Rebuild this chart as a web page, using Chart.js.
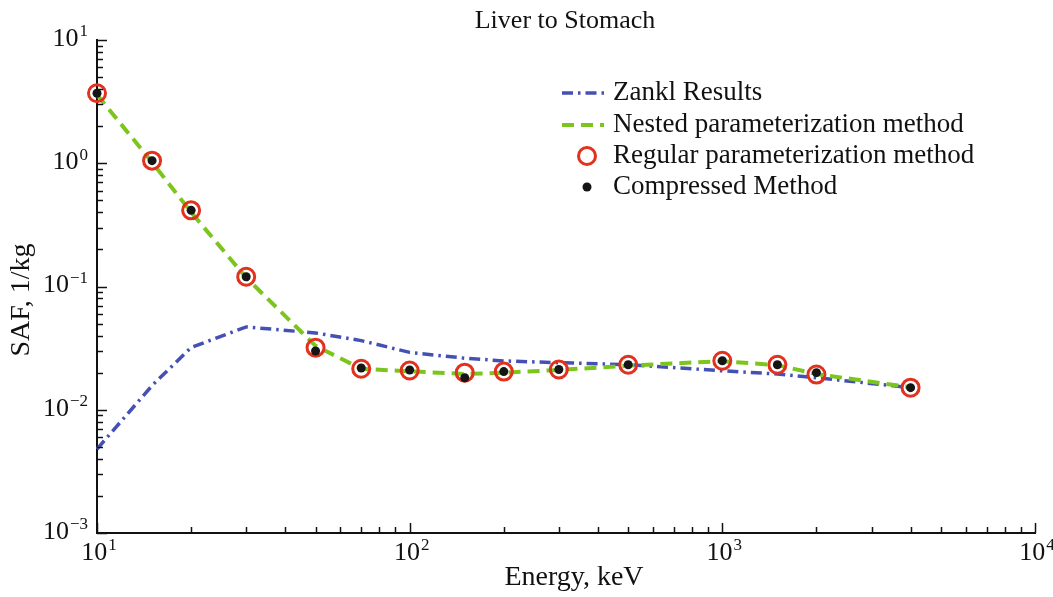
<!DOCTYPE html>
<html>
<head>
<meta charset="utf-8">
<script src="https://cdn.jsdelivr.net/npm/chart.js@4.4.1/dist/chart.umd.min.js"></script>
<style>
body{margin:0;background:#fff}
#wrap{width:1053px;height:597px}
</style>
</head>
<body>
<div id="wrap"><canvas id="saf-chart" width="1053" height="597"></canvas></div>
<script>
const energies = [10, 15, 20, 30, 50, 70, 100, 150, 200, 300, 500, 1000, 1500, 2000, 4000]
const zanklSaf = [0.0048, 0.0157, 0.032, 0.047, 0.042, 0.0364, 0.0292, 0.0262, 0.0249, 0.0241, 0.0232, 0.0207, 0.0195, 0.0182, 0.0151]
const nestedSaf = [3.6, 1.02, 0.40, 0.118, 0.033, 0.0215, 0.0205, 0.0195, 0.0200, 0.0210, 0.0228, 0.0248, 0.0230, 0.0195, 0.0152]
const regularSaf = [3.7, 1.05, 0.415, 0.12, 0.0319, 0.0215, 0.0208, 0.0200, 0.0204, 0.0212, 0.0232, 0.0250, 0.0232, 0.0193, 0.0151]
const compressedSaf = [3.7, 1.05, 0.415, 0.12, 0.0300, 0.0218, 0.0210, 0.0182, 0.0204, 0.0212, 0.0232, 0.0250, 0.0232, 0.0200, 0.0151]
const seriesNames = ['Zankl Results', 'Nested parameterization method', 'Regular parameterization method', 'Compressed Method']
const xTickExps = [1, 2, 3, 4]
const yTickExps = [-3, -2, -1, 0, 1]

const COLORS = {
  blue: "#4550b5",
  green: "#7cc51d",
  red: "#e2311d",
  black: "#151515"
}
const FONT = "'Liberation Serif', 'Times New Roman', serif"

const toPoints = (vals) => energies.map((e, i) => ({x: e, y: vals[i]}))

const datasets = [
  {
    label: seriesNames[3],
    data: toPoints(compressedSaf),
    showLine: false,
    pointRadius: 4.5,
    pointBackgroundColor: COLORS.black,
    pointBorderWidth: 0,
    order: 0,
    clip: false
  },
  {
    label: seriesNames[2],
    data: toPoints(regularSaf),
    showLine: false,
    pointRadius: 8.5,
    pointBackgroundColor: "rgba(0,0,0,0)",
    pointBorderColor: COLORS.red,
    pointBorderWidth: 3,
    order: 1,
    clip: false
  },
  {
    label: seriesNames[1],
    data: toPoints(nestedSaf),
    borderColor: COLORS.green,
    borderWidth: 4,
    borderDash: [12, 7],
    pointRadius: 0,
    order: 2,
    clip: false
  },
  {
    label: seriesNames[0],
    data: toPoints(zanklSaf),
    borderColor: COLORS.blue,
    borderWidth: 3.5,
    borderDash: [11, 5, 2.5, 5],
    pointRadius: 0,
    order: 3,
    clip: false
  }
]

// "10" with a raised exponent
const drawPow = (ctx, exp, x, y, align) => {
  const base = "10"
  const e = exp < 0 ? "\u2212" + Math.abs(exp) : String(exp)
  ctx.font = "26px " + FONT
  const wb = ctx.measureText(base).width
  ctx.font = "17px " + FONT
  const we = ctx.measureText(e).width
  const total = wb + we + 1
  let x0 = x
  if (align === "right") x0 = x - total
  if (align === "center") x0 = x - total / 2
  ctx.textAlign = "left"
  ctx.textBaseline = "middle"
  ctx.font = "26px " + FONT
  ctx.fillText(base, x0, y)
  ctx.font = "17px " + FONT
  ctx.fillText(e, x0 + wb + 1, y - 7)
}

const decorPlugin = {
  id: "decor",
  afterDraw(chart) {
    const ctx = chart.ctx
    const xs = chart.scales.x
    const ys = chart.scales.y
    const area = chart.chartArea
    ctx.save()
    ctx.fillStyle = "#111"
    ctx.strokeStyle = "#111"
    ctx.lineWidth = 1.5

    // inward ticks
    yTickExps.forEach(p => {
      for (let m = 1; m <= 9; m++) {
        if (p === yTickExps[yTickExps.length - 1] && m > 1) break
        const py = Math.round(ys.getPixelForValue(m * Math.pow(10, p))) + 0.5
        const len = m === 1 ? 10 : 6
        ctx.beginPath()
        ctx.moveTo(area.left, py)
        ctx.lineTo(area.left + len, py)
        ctx.stroke()
      }
    })
    xTickExps.forEach(p => {
      for (let m = 1; m <= 9; m++) {
        if (p === xTickExps[xTickExps.length - 1] && m > 1) break
        const px = Math.round(xs.getPixelForValue(m * Math.pow(10, p))) + 0.5
        const len = m === 1 ? 10 : 6
        ctx.beginPath()
        ctx.moveTo(px, area.bottom)
        ctx.lineTo(px, area.bottom - len)
        ctx.stroke()
      }
    })

    // tick labels
    yTickExps.forEach(p => drawPow(ctx, p, area.left - 9, ys.getPixelForValue(Math.pow(10, p)) - 1, "right"))
    xTickExps.forEach(p => drawPow(ctx, p, xs.getPixelForValue(Math.pow(10, p)) + 2, area.bottom + 20, "center"))

    // titles
    ctx.font = "26px " + FONT
    ctx.textAlign = "center"
    ctx.textBaseline = "middle"
    ctx.fillText("Liver to Stomach", (area.left + area.right) / 2 - 1, 21)
    ctx.font = "28px " + FONT
    ctx.fillText("Energy, keV", (area.left + area.right) / 2 + 8, 578)
    ctx.save()
    ctx.translate(22, 300)
    ctx.rotate(-Math.PI / 2)
    ctx.fillText("SAF, 1/kg", 0, 0)
    ctx.restore()

    // legend
    const rows = [
      {ds: datasets[3], y: 93},
      {ds: datasets[2], y: 125},
      {ds: datasets[1], y: 156},
      {ds: datasets[0], y: 187}
    ]
    rows.forEach(r => {
      const ds = r.ds
      if (ds.showLine === false) {
        ctx.beginPath()
        ctx.arc(587, r.y, ds.pointRadius, 0, Math.PI * 2)
        if (ds.pointBorderWidth) {
          ctx.lineWidth = ds.pointBorderWidth
          ctx.strokeStyle = ds.pointBorderColor
          ctx.stroke()
        } else {
          ctx.fillStyle = ds.pointBackgroundColor
          ctx.fill()
        }
      } else {
        ctx.beginPath()
        ctx.setLineDash(ds.borderDash)
        ctx.lineWidth = ds.borderWidth
        ctx.strokeStyle = ds.borderColor
        ctx.moveTo(562, r.y)
        ctx.lineTo(604, r.y)
        ctx.stroke()
        ctx.setLineDash([])
      }
      ctx.fillStyle = "#111"
      ctx.font = "27px " + FONT
      ctx.textAlign = "left"
      ctx.textBaseline = "middle"
      ctx.fillText(ds.label, 613, r.y)
    })
    ctx.restore()
  }
}

const ctx = document.getElementById("saf-chart")
const config = {
  type: "line",
  data: {datasets: datasets},
  options: {
    responsive: false,
    animation: false,
    layout: {padding: {top: 40, right: 18, left: 0, bottom: 0}},
    plugins: {
      legend: {display: false},
      title: {display: false},
      tooltip: {enabled: false}
    },
    scales: {
      x: {
        type: "logarithmic",
        min: 10,
        max: 10000,
        grid: {display: false, drawTicks: false},
        ticks: {display: false},
        border: {display: true, color: "#111", width: 2},
        afterFit(scale) { scale.height = 64 }
      },
      y: {
        type: "logarithmic",
        min: 0.001,
        max: 10,
        grid: {display: false, drawTicks: false},
        ticks: {display: false},
        border: {display: true, color: "#111", width: 2},
        afterFit(scale) { scale.width = 97 }
      }
    }
  },
  plugins: [decorPlugin]
}
new Chart(ctx, config)
</script>
</body>
</html>
